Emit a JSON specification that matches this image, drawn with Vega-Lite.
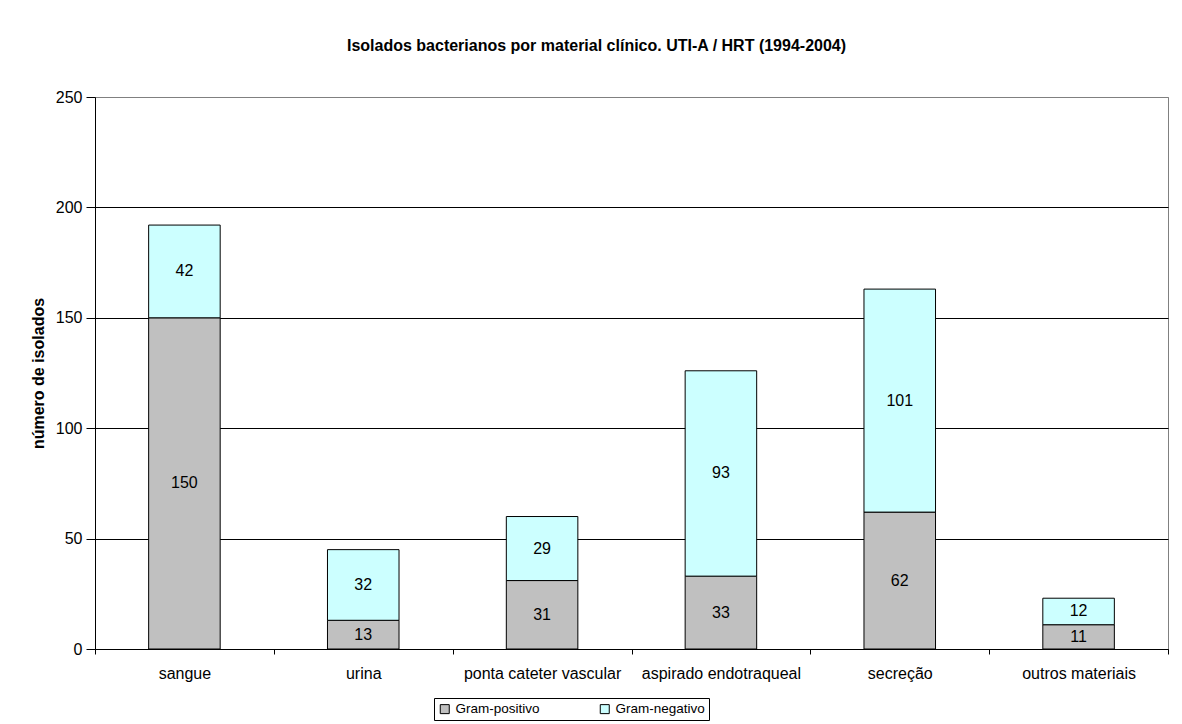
{
  "$schema": "https://vega.github.io/schema/vega-lite/v6.json",
  "width": 1073,
  "height": 552,
  "autosize": {"type": "none"},
  "padding": {"left": 95, "top": 97, "right": 14, "bottom": 75},
  "background": "white",
  "config": {
    "font": "Liberation Sans",
    "view": {"stroke": "#808080", "strokeWidth": 1}
  },
  "title": {
    "text": "Isolados bacterianos por material clínico. UTI-A / HRT (1994-2004)",
    "font": "Liberation Sans",
    "fontSize": 16,
    "fontWeight": "bold",
    "color": "black",
    "anchor": "middle",
    "baseline": "alphabetic",
    "offset": 22,
    "dx": -35
  },
  "data": {
    "values": [
      {"material": "sangue", "grupo": "Gram-positivo", "isolados": 150},
      {"material": "sangue", "grupo": "Gram-negativo", "isolados": 42},
      {"material": "urina", "grupo": "Gram-positivo", "isolados": 13},
      {"material": "urina", "grupo": "Gram-negativo", "isolados": 32},
      {"material": "ponta cateter vascular", "grupo": "Gram-positivo", "isolados": 31},
      {"material": "ponta cateter vascular", "grupo": "Gram-negativo", "isolados": 29},
      {"material": "aspirado endotraqueal", "grupo": "Gram-positivo", "isolados": 33},
      {"material": "aspirado endotraqueal", "grupo": "Gram-negativo", "isolados": 93},
      {"material": "secreção", "grupo": "Gram-positivo", "isolados": 62},
      {"material": "secreção", "grupo": "Gram-negativo", "isolados": 101},
      {"material": "outros materiais", "grupo": "Gram-positivo", "isolados": 11},
      {"material": "outros materiais", "grupo": "Gram-negativo", "isolados": 12}
    ]
  },
  "encoding": {
    "x": {
      "field": "material",
      "type": "nominal",
      "sort": null,
      "scale": {"paddingInner": 0, "paddingOuter": 0},
      "axis": {
        "title": null,
        "labelAngle": 0,
        "labelFontSize": 16,
        "labelColor": "black",
        "labelPadding": 11,
        "labelBaseline": "top",
        "tickBand": "extent",
        "tickSize": 5,
        "tickColor": "black",
        "domainColor": "black",
        "grid": false
      }
    }
  },
  "layer": [
    {
      "mark": {"type": "bar", "width": {"band": 0.4}, "stroke": "black", "strokeWidth": 1},
      "encoding": {
        "y": {
          "field": "isolados",
          "type": "quantitative",
          "stack": "zero",
          "scale": {"domain": [0, 250], "nice": false},
          "axis": {
            "title": "número de isolados",
            "titleFontSize": 16,
            "titleFontWeight": "bold",
            "titleColor": "black",
            "titlePadding": 9,
            "values": [0, 50, 100, 150, 200, 250],
            "labelFontSize": 16,
            "labelColor": "black",
            "labelPadding": 4,
            "tickSize": 9,
            "tickColor": "black",
            "domainColor": "black",
            "grid": true,
            "gridColor": {"condition": {"test": "datum.value === 250", "value": "#808080"}, "value": "black"},
            "gridOpacity": 1,
            "gridWidth": 1
          }
        },
        "order": {"field": "grupo", "sort": "descending"},
        "color": {
          "field": "grupo",
          "type": "nominal",
          "scale": {"domain": ["Gram-positivo", "Gram-negativo"], "range": ["#C0C0C0", "#CCFFFF"]},
          "legend": {
            "title": null,
            "orient": "none",
            "direction": "horizontal",
            "columns": 2,
            "legendX": 339,
            "legendY": 601,
            "symbolType": "square",
            "symbolSize": 81,
            "symbolStrokeColor": "black",
            "symbolStrokeWidth": 1,
            "symbolOpacity": 1,
            "labelFontSize": 13.5,
            "labelColor": "black",
            "labelOffset": 4,
            "columnPadding": 58,
            "padding": 4,
            "strokeColor": "black",
            "fillColor": "white"
          }
        }
      }
    },
    {
      "transform": [
        {
          "stack": "isolados",
          "groupby": ["material"],
          "sort": [{"field": "grupo", "order": "descending"}],
          "as": ["base", "topo"]
        },
        {"fold": ["base", "topo"], "as": ["borda", "nivel"]}
      ],
      "mark": {"type": "text", "fontSize": 16, "color": "black", "baseline": "middle"},
      "encoding": {
        "y": {"aggregate": "mean", "field": "nivel", "type": "quantitative", "stack": null},
        "detail": {"field": "grupo", "type": "nominal"},
        "text": {"field": "isolados", "type": "quantitative"}
      }
    }
  ]
}
